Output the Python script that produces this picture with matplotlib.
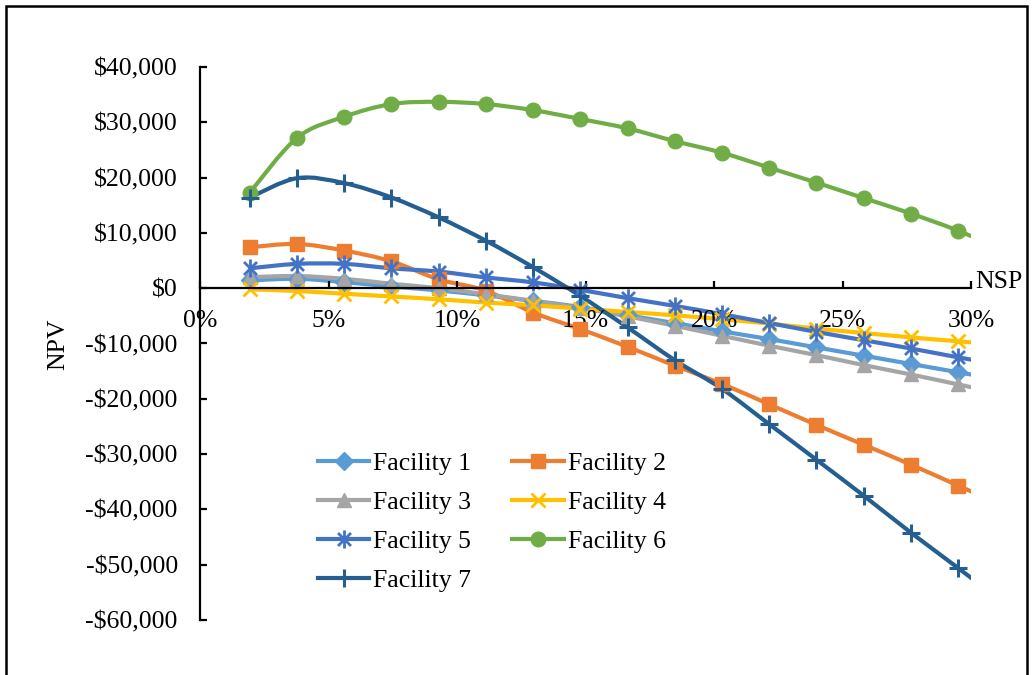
import matplotlib
matplotlib.use("Agg")
import matplotlib.pyplot as plt
from matplotlib.path import Path
from matplotlib.patches import PathPatch, Rectangle
from matplotlib.lines import Line2D
from matplotlib.ticker import FuncFormatter, MultipleLocator

plt.rcParams['font.family'] = ['Liberation Serif', 'DejaVu Serif']

# NSP (%) for each evaluated point; the last one lies just past the 30% axis end
nsp = [1.94, 3.78, 5.61, 7.45, 9.29, 11.12, 12.96, 14.80, 16.64,
       18.47, 20.31, 22.15, 23.98, 25.82, 27.66, 29.50, 31.33]

facility_1 = [1400, 1700, 1100, 300, -400, -1300, -2300, -3400, -4900,
              -6300, -7800, -9200, -10700, -12200, -13700, -15200, -16700]
facility_2 = [7400, 8000, 6800, 4850, 1600, -450, -4400, -7400, -10600,
              -14000, -17300, -21000, -24700, -28300, -31900, -35700, -39500]
facility_3 = [2000, 2200, 1700, 800, 0, -1100, -2300, -3600, -5100,
              -6800, -8600, -10400, -12100, -13900, -15600, -17400, -19200]
facility_4 = [-200, -500, -1000, -1500, -2000, -2600, -3100, -3700, -4300,
              -4900, -5600, -6400, -7300, -8100, -8900, -9600, -10300]
facility_5 = [3600, 4400, 4400, 3600, 3000, 1950, 1050, -300, -1800,
              -3200, -4700, -6300, -7900, -9400, -10900, -12500, -14000]
facility_6 = [17300, 27200, 31000, 33300, 33700, 33300, 32200, 30600, 28900,
              26600, 24500, 21800, 19100, 16300, 13500, 10400, 6800]
facility_7 = [16400, 19900, 19000, 16400, 12800, 8600, 3800, -1400, -7100,
              -13000, -18200, -24600, -31000, -37500, -44200, -50600, -57100]

labels = ['Facility 1', 'Facility 2', 'Facility 3', 'Facility 4',
          'Facility 5', 'Facility 6', 'Facility 7']
series = [facility_1, facility_2, facility_3, facility_4,
          facility_5, facility_6, facility_7]

# asterisk marker: vertical bar plus an x
star = Path([(0, -1), (0, 1), (-0.72, -0.72), (0.72, 0.72), (-0.72, 0.72), (0.72, -0.72)],
            [Path.MOVETO, Path.LINETO, Path.MOVETO, Path.LINETO, Path.MOVETO, Path.LINETO])

styles = [
    dict(color='#5B9BD5', marker='D', ms=9, mew=1),
    dict(color='#ED7D31', marker='s', ms=10, mew=1),
    dict(color='#A5A5A5', marker='^', ms=10, mew=1),
    dict(color='#FFC000', marker='x', ms=10, mew=2),
    dict(color='#4472C4', marker=star, ms=13, mew=2),
    dict(color='#70AD47', marker='o', ms=10.5, mew=1),
    dict(color='#255E91', marker='+', ms=13, mew=2.2),
]
LW = 3.0


def smooth_path(xs, ys):
    """Catmull-Rom curve through the points, as cubic Bezier segments."""
    pts = list(zip(xs, ys))
    verts = [pts[0]]
    codes = [Path.MOVETO]
    n = len(pts)
    for i in range(n - 1):
        p0 = pts[i - 1] if i > 0 else pts[i]
        p1 = pts[i]
        p2 = pts[i + 1]
        p3 = pts[i + 2] if i + 2 < n else pts[i + 1]
        c1 = (p1[0] + (p2[0] - p0[0]) / 6, p1[1] + (p2[1] - p0[1]) / 6)
        c2 = (p2[0] - (p3[0] - p1[0]) / 6, p2[1] - (p3[1] - p1[1]) / 6)
        verts += [c1, c2, p2]
        codes += [Path.CURVE4] * 3
    return Path(verts, codes)


fig = plt.figure(figsize=(10.33, 6.75), dpi=100)
ax = fig.add_axes([200 / 1033, 55 / 675, 771 / 1033, 553 / 675])

handles = []
for vals, lab, st in zip(series, labels, styles):
    patch = PathPatch(smooth_path(nsp, vals), facecolor='none', edgecolor=st['color'],
                      lw=LW, capstyle='butt', joinstyle='round')
    ax.add_patch(patch)
    ax.plot(nsp, vals, linestyle='none', marker=st['marker'], ms=st['ms'],
            mfc=st['color'], mec=st['color'], mew=st['mew'])
    handles.append(Line2D([], [], color=st['color'], lw=LW, marker=st['marker'],
                          ms=st['ms'], mfc=st['color'], mec=st['color'], mew=st['mew']))

ax.set_xlim(0, 30)
ax.set_ylim(-60000, 40000)

for side in ['top', 'right']:
    ax.spines[side].set_visible(False)
ax.spines['bottom'].set_position(('data', 0))
ax.spines['bottom'].set_linewidth(1.6)
ax.spines['left'].set_linewidth(1.6)

ax.xaxis.set_major_locator(MultipleLocator(5))
ax.yaxis.set_major_locator(MultipleLocator(10000))
ax.xaxis.set_major_formatter(FuncFormatter(lambda v, p: f'{v:.0f}%'))
ax.yaxis.set_major_formatter(FuncFormatter(
    lambda v, p: f'${v:,.0f}' if v >= 0 else f'-${-v:,.0f}'))
ax.tick_params(axis='both', direction='in', length=5, width=1.6,
               labelsize=18.5, pad=16)

ax.text(1.005, 0, 'NSP', transform=ax.get_yaxis_transform(), fontsize=18.5,
        ha='left', va='baseline')
fig.text(58 / 1033, 1 - 344 / 675, 'NPV', rotation=90, fontsize=18.5,
         ha='center', va='center')

# two-column legend filled row by row
order = [0, 2, 4, 6, 1, 3, 5]
ax.legend([handles[i] for i in order], [labels[i] for i in order], ncol=2,
          loc='upper left', bbox_to_anchor=(318 / 1033, 1 - 452 / 675),
          bbox_transform=fig.transFigure, frameon=False, fontsize=18.5,
          borderpad=0, borderaxespad=0, handlelength=2.0, handletextpad=0.15,
          columnspacing=1.6, labelspacing=0.62)

# outer frame
fig.add_artist(Rectangle((6 / 1033, -0.05), 1021 / 1033, 1.05 - 6 / 675,
                         transform=fig.transFigure, fill=False,
                         edgecolor='black', lw=1.8))

fig.savefig('out.png', dpi=100)
